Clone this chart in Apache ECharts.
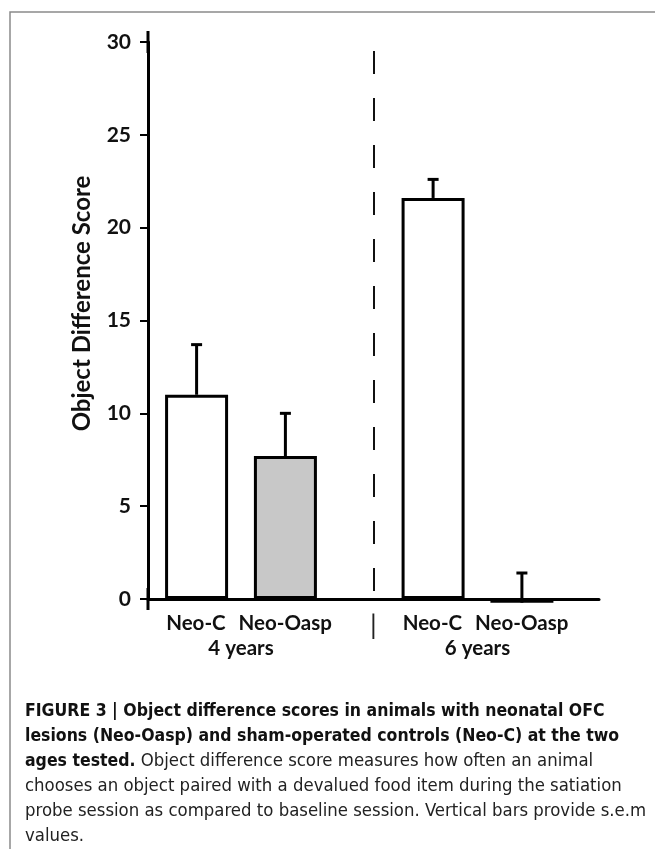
<!DOCTYPE html>
<html>
<head>
<meta charset="utf-8">
<script src="https://cdn.jsdelivr.net/npm/echarts@6/dist/echarts.min.js"></script>
<style>
html,body{margin:0;padding:0;background:#fff;}
#chart{width:655px;height:849px;}
</style>
</head>
<body>
<div id="chart"></div>
<script>
// ---- data ----
const groups = ['4 years', '6 years'];
const seriesNames = ['Neo-C', 'Neo-Oasp'];
const neoC = [11.0, 21.6];
const neoOasp = [7.7, -0.2];
const semNeoC = [2.7, 1.0];
const semNeoOasp = [2.3, 1.6];
const yTicks = { min: 0, max: 30, interval: 5 };
const yTitle = 'Object Difference Score';
const captionBold1 = 'FIGURE 3 | Object difference scores in animals with neonatal OFC';
const captionBold2 = 'lesions (Neo-Oasp) and sham-operated controls (Neo-C) at the two';
const captionBold3 = 'ages tested.';
const captionReg3 = ' Object difference score measures how often an animal';
const captionReg4 = 'chooses an object paired with a devalued food item during the satiation';
const captionReg5 = 'probe session as compared to baseline session. Vertical bars provide s.e.m';
const captionReg6 = 'values.';

const chart = echarts.init(document.getElementById('chart'), null, { renderer: 'canvas' });

const FONT = 'Lato, "Open Sans", sans-serif';
const CAPFONT = '"Liberation Sans Narrow", "DejaVu Sans Condensed", "Liberation Sans", sans-serif';
const BAR_OFFSET = 44.4; // half distance between bar centres in a group (px)

function errorSeries(name, means, sems, dir) {
  return {
    type: 'custom',
    name: name + ' sem',
    xAxisIndex: 0, yAxisIndex: 0,
    z: 1,
    clip: false,
    data: means.map((m, i) => [i, m, sems[i]]),
    renderItem: function (params, api) {
      const c = api.value(0);
      const m = api.value(1);
      const s = api.value(2);
      const x = api.coord([c, 0])[0] + dir * BAR_OFFSET;
      const y0 = api.coord([c, m])[1];
      const y1 = api.coord([c, m + s])[1];
      const style = { stroke: '#000', lineWidth: 3 };
      return {
        type: 'group',
        children: [
          { type: 'line', shape: { x1: x, y1: y0, x2: x, y2: y1 }, style: style },
          { type: 'line', shape: { x1: x - 5.5, y1: y1, x2: x + 5.5, y2: y1 }, style: style }
        ]
      };
    }
  };
}

const option = {
  backgroundColor: '#fff',
  animation: false,
  grid: [
    { left: 122.75, right: 59.25, top: 42, bottom: 250 },
    { left: 148, right: 56, top: 42, bottom: 250 }
  ],
  xAxis: [
    {
      type: 'category', gridIndex: 0, data: groups,
      axisLine: { show: false }, axisTick: { show: false }, splitLine: { show: false },
      axisLabel: {
        margin: 12,
        formatter: function (v, i) {
          return '{p|}{n|' + seriesNames[0] + '}{g|}{n|' + seriesNames[1] + '}\n{n|' + v + '}';
        },
        rich: {
          n: { fontFamily: FONT, fontSize: 20.5, fontWeight: 'bold', color: '#111', lineHeight: 25 },
          g: { width: 13 },
          p: { width: 16 }
        }
      }
    },
    {
      // separator axis: baseline plus the dashed divider between the two ages
      type: 'value', gridIndex: 1, min: 0, max: groups.length, interval: 1,
      axisLine: { show: true, onZero: false, lineStyle: { color: '#000', width: 3 } },
      axisTick: { show: false }, axisLabel: { show: false },
      splitLine: {
        show: true, showMinLine: false, showMaxLine: false,
        lineStyle: { color: '#111', width: 2, type: [23, 24], dashOffset: 38 }
      }
    }
  ],
  yAxis: [
    { type: 'value', gridIndex: 0, min: yTicks.min, max: yTicks.max, interval: yTicks.interval, show: false },
    {
      type: 'value', gridIndex: 1, min: yTicks.min, max: yTicks.max, interval: yTicks.interval,
      name: yTitle, nameLocation: 'middle', nameGap: 54,
      nameTextStyle: { fontFamily: FONT, fontSize: 24, fontWeight: 'bold', color: '#111', padding: [0, 0, 0, 34] },
      axisLine: { show: true, lineStyle: { color: '#000', width: 3 }, symbol: ['rect', 'rect'], symbolSize: [3, 22] },
      axisTick: { show: true, inside: false, length: 8, lineStyle: { color: '#000', width: 2 } },
      axisLabel: { margin: 17, fontFamily: FONT, fontSize: 21, fontWeight: 'bold', color: '#111' },
      splitLine: { show: false }
    }
  ],
  series: [
    {
      type: 'bar', name: seriesNames[0], xAxisIndex: 0, yAxisIndex: 0,
      data: neoC, barWidth: 63, barGap: '41%', z: 2, clip: false,
      itemStyle: { color: '#fff', borderColor: '#000', borderWidth: 3 }
    },
    {
      type: 'bar', name: seriesNames[1], xAxisIndex: 0, yAxisIndex: 0,
      data: neoOasp, barWidth: 63, barGap: '41%', z: 2, clip: false,
      itemStyle: { color: '#c8c8c8', borderColor: '#000', borderWidth: 3 }
    },
    errorSeries(seriesNames[0], neoC, semNeoC, -1),
    errorSeries(seriesNames[1], neoOasp, semNeoOasp, 1)
  ],
  title: {
    left: 25, top: 699,
    text: '{b|' + captionBold1 + '}\n{b|' + captionBold2 + '}\n{b|' + captionBold3 + '}{r|' + captionReg3 + '}\n{r|' + captionReg4 + '}\n{r|' + captionReg5 + '}\n{r|' + captionReg6 + '}',
    textStyle: {
      rich: {
        b: { fontFamily: CAPFONT, fontSize: 17.5, fontWeight: 'bold', color: '#111', lineHeight: 25 },
        r: { fontFamily: CAPFONT, fontSize: 18.4, fontWeight: 'normal', color: '#222', lineHeight: 25 }
      }
    },
    padding: 0
  },
  graphic: [
    { type: 'polyline', shape: { points: [[10, 849], [10, 12], [655, 12]] }, style: { stroke: '#8a8a8a', lineWidth: 1.5, fill: null }, silent: true },
    { type: 'text', left: 370, top: 612, style: { text: '|', font: '27px Lato, sans-serif', fill: '#222' }, silent: true }
  ]
};

chart.setOption(option);
</script>
</body>
</html>
